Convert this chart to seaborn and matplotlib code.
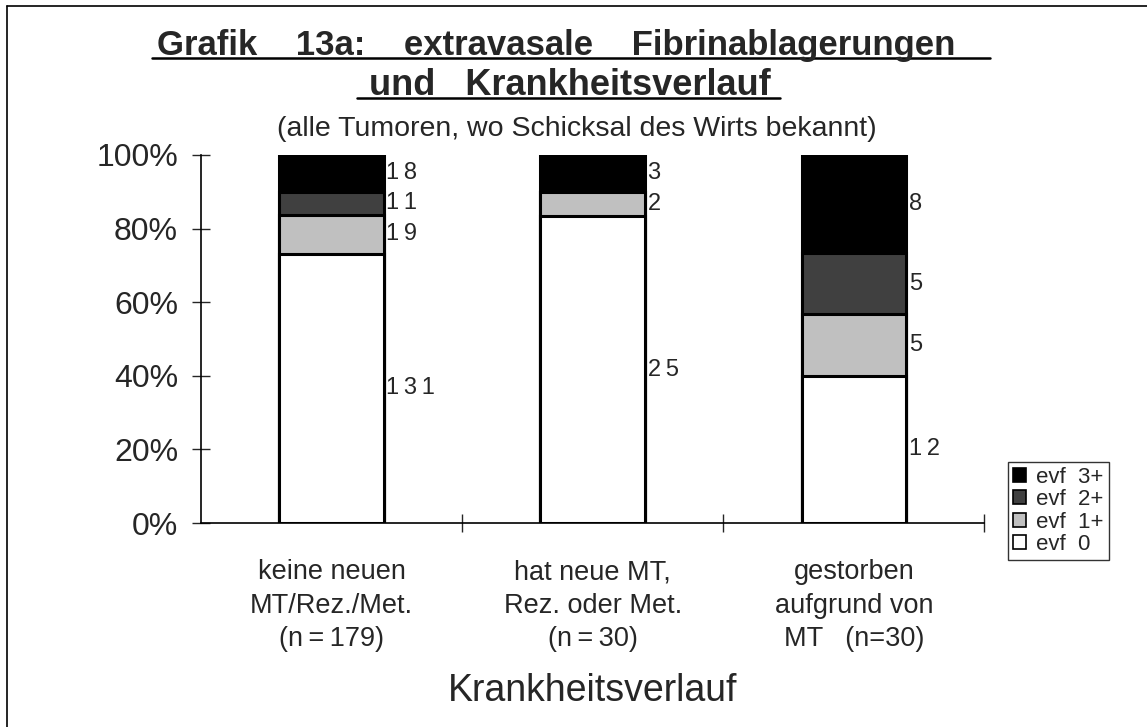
import numpy as np
import pandas as pd
import matplotlib
matplotlib.use("Agg")
import matplotlib.pyplot as plt
from matplotlib.lines import Line2D
import seaborn as sns

# data (counts per group)
groups = ["keine neuen\nMT/Rez./Met.\n(n\u2009=\u2009179)",
          "hat neue MT,\nRez. oder Met.\n(n\u2009=\u200930)",
          "gestorben\naufgrund von\nMT   (n=30)"]
evf0 = [131, 25, 12]
evf1 = [19, 2, 5]
evf2 = [11, 0, 5]
evf3 = [18, 3, 8]
series_names = ["evf  0", "evf  1+", "evf  2+", "evf  3+"]
series_colors = ["#ffffff", "#c0c0c0", "#404040", "#000000"]

sns.set_style("white")
plt.rcParams["font.family"] = ["Liberation Sans", "DejaVu Sans"]

counts = np.array([evf0, evf1, evf2, evf3], dtype=float)
pct = counts / counts.sum(axis=0) * 100
cum = np.cumsum(pct, axis=0)

fig = plt.figure(figsize=(11.47, 7.27), dpi=100)
ax = fig.add_axes([0.1752, 0.2806, 0.8518 - 0.1752 + 0.0065, 0.7868 - 0.2806])

# stacked bars: draw the cumulative totals from the top layer down
for k in [3, 2, 1, 0]:
    df = pd.DataFrame({"group": groups, "value": cum[k]})
    sns.barplot(data=df, x="group", y="value", color=series_colors[k],
                edgecolor="black", linewidth=2.2, width=0.4, saturation=1,
                label=series_names[k], ax=ax)

# count labels right of each segment
for i in range(len(groups)):
    for k in range(4):
        if counts[k, i] == 0:
            continue
        mid = cum[k, i] - pct[k, i] / 2
        txt = "\u2009".join(str(int(counts[k, i])))
        ax.text(i + 0.21, mid, txt, fontsize=17, va="center", ha="left")

ax.set_xlim(-0.5, 2.5)
ax.set_ylim(0, 100)
ax.set_yticks([0, 20, 40, 60, 80, 100])
ax.set_yticklabels([f"{v}%" for v in [0, 20, 40, 60, 80, 100]], fontsize=23)
ax.tick_params(axis="y", direction="inout", length=13, width=1, pad=10, left=True)

ax.set_xticks([0.5, 1.5, 2.5])
ax.set_xticklabels([])
ax.set_xticks([0, 1, 2], minor=True)
ax.set_xticklabels(groups, minor=True, fontsize=19.5, linespacing=1.37)
ax.tick_params(axis="x", which="major", direction="inout", length=13, width=1, bottom=True)
ax.tick_params(axis="x", which="minor", length=0, pad=26)
ax.set_xlabel("Krankheitsverlauf", fontsize=27, labelpad=15)
ax.set_ylabel("")

for s in ["top", "right"]:
    ax.spines[s].set_visible(False)
for s in ["left", "bottom"]:
    ax.spines[s].set_color("black")
    ax.spines[s].set_linewidth(1.2)

handles, labels = ax.get_legend_handles_labels()
if ax.legend_:
    ax.legend_.remove()
leg = fig.legend(handles, labels, loc="upper left", bbox_to_anchor=(0.879, 0.3645),
                 fontsize=16, frameon=True, fancybox=False, edgecolor="black",
                 handlelength=0.6, handleheight=0.6, handletextpad=0.45,
                 labelspacing=0.06, borderpad=0.22, borderaxespad=0)
leg.get_frame().set_linewidth(1)
for h in leg.legend_handles:
    h.set_linewidth(1.2)

# titles
fig.text(0.4975, 0.925, "Grafik    13a:    extravasale    Fibrinablagerungen   ",
         ha="center", va="baseline", fontsize=25, fontweight="bold")
fig.text(0.4965, 0.869, "und   Krankheitsverlauf",
         ha="center", va="baseline", fontsize=26, fontweight="bold")
fig.add_artist(Line2D([152 / 1147, 990 / 1147], [1 - 58 / 727] * 2, color="black", lw=1.8))
fig.add_artist(Line2D([357 / 1147, 780 / 1147], [1 - 98 / 727] * 2, color="black", lw=1.8))
fig.text(0.503, 0.822, "(alle Tumoren, wo Schicksal des Wirts bekannt)",
         ha="center", va="center", fontsize=20.5)

# frame lines at top and left of the picture
fig.add_artist(Line2D([7 / 1147, 1], [1 - 6 / 727] * 2, color="black", lw=1.2))
fig.add_artist(Line2D([7 / 1147] * 2, [0, 1 - 6 / 727], color="black", lw=1.2))

fig.savefig("out.png", dpi=100)
